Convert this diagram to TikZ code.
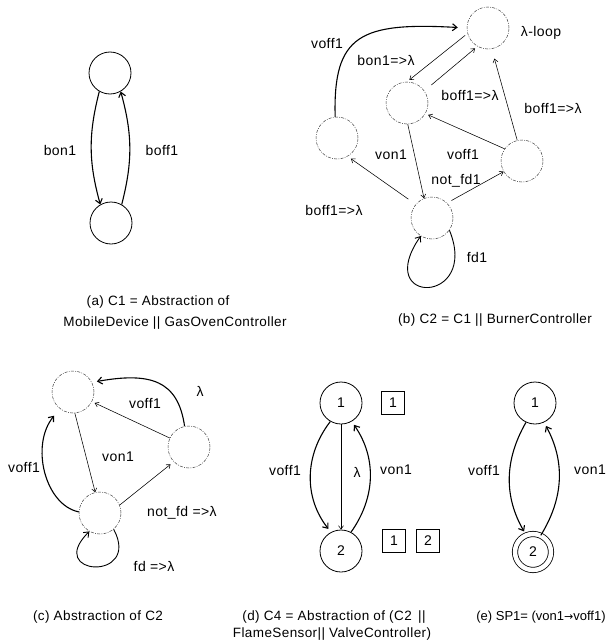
\documentclass[tikz,border=0pt]{standalone}
\usepackage{fontspec}
\setmainfont{Liberation Sans}[LetterSpace=3]
\newfontfamily\tightfont{Liberation Sans}
\newfontfamily\arrowfont{DejaVu Sans}
\usetikzlibrary{arrows.meta}
\begin{document}
\begin{tikzpicture}[x=1pt,y=-1pt,
 every node/.style={font=\fontsize{14}{16}\selectfont},
 st/.style={circle, draw, line width=0.8pt, minimum size=42pt, inner sep=0pt},
 dst/.style={circle, draw=black!75, line width=0.5pt, dash pattern=on 3pt off 1.3pt on 0.8pt off 1.3pt, minimum size=42pt, inner sep=0pt},
 thinarr/.style={draw, line width=0.55pt, -{Straight Barb[length=3.5pt,width=5pt]}},
 thickarr/.style={draw, line width=1.1pt, -{Straight Barb[length=4.5pt,width=7pt]}},
 lbl/.style={inner sep=1pt},
 captext/.style={inner sep=1pt, font=\fontsize{13.5}{16}\selectfont},
 boxnode/.style={draw, line width=0.8pt, minimum width=23pt, minimum height=23pt, inner sep=0pt}
]
\useasboundingbox[fill=white] (0,0) rectangle (608,642);

% ---------- (a)
\node[st] (a1) at (110,73) {};
\node[st] (a2) at (111,223) {};
\draw[thickarr] (a1.240) to[bend right=15] (a2.120);
\draw[thickarr] (a2.60) to[bend right=15] (a1.300);
\node[lbl] (la1) at (60,150) {bon1};
\node[lbl] (la2) at (162,150) {boff1};
\node[captext] (capa1) at (158,302) {(a) C1 = Abstraction of};
\node[captext] (capa2) at (175,323) {MobileDevice || GasOvenController};

% ---------- (b)
\node[dst] (bT) at (488,28) {};
\node[dst] (bM) at (407,103) {};
\node[dst] (bL) at (337,138) {};
\node[dst] (bR) at (522,161) {};
\node[dst] (bB) at (432,218) {};
\draw[thickarr, shorten >=9pt] (bL.95) .. controls (333,35) and (360,22) .. (bT.180);
\draw[thinarr, shorten <=3pt, shorten >=3pt] (bT.195) -- (bM.90);
\draw[thinarr, shorten <=9pt, shorten >=3pt] (bM.35) -- (bT.240);
\draw[thinarr, shorten >=10pt] (bR.103) -- (bT.280);
\draw[thinarr, shorten >=3pt] (bR.145) -- (bM.330);
\draw[thinarr] (bM.272) -- (bB.112);
\draw[thinarr, shorten <=5pt] (bB.45) -- (bR.210);
\draw[thinarr, shorten <=9pt, shorten >=4pt] (bB.140) -- (bL.300);
\draw[thickarr, line width=0.9pt] (bB.-35) .. controls (480,305) and (372,306) .. (bB.238);
\node[lbl] (lb1) at (327,44) {voff1};
\node[lbl] (lb2) at (386,60) {bon1=>λ};
\node[lbl] (lb3) at (541,33) {λ-loop};
\node[lbl] (lb4) at (470,95) {boff1=>λ};
\node[lbl] (lb5) at (553,108) {boff1=>λ};
\node[lbl] (lb6) at (391,155) {von1};
\node[lbl] (lb7) at (463,155) {voff1};
\node[lbl] (lb8) at (456,181) {not\_fd1};
\node[lbl] (lb9) at (334,210) {boff1=>λ};
\node[lbl] (lb10) at (477,257) {fd1};
\node[captext] (capb) at (495,320) {(b) C2 = C1 || BurnerController};

% ---------- (c)
\node[dst] (cTL) at (73,392) {};
\node[dst] (cR) at (189,447) {};
\node[dst] (cB) at (100,513) {};
\draw[thickarr, shorten >=5pt] (cR.102) .. controls (178,380) and (150,372) .. (cTL.27);
\draw[thinarr, shorten >=3pt] (cR.155) -- (cTL.333);
\draw[thinarr] (cTL.275) -- (cB.103);
\draw[thinarr, shorten >=4pt] (cB.22) -- (cR.224);
\draw[thickarr, shorten >=9pt] (cB.177) .. controls (45,505) and (30,445) .. (cTL.232);
\draw[thickarr, line width=0.9pt] (cB.-50) .. controls (142,582) and (44,576) .. (cB.240);
\node[lbl] (lc1) at (200,391) {λ};
\node[lbl] (lc2) at (145,403) {voff1};
\node[lbl] (lc3) at (118,457) {von1};
\node[lbl] (lc4) at (24,467) {voff1};
\node[lbl] (lc5) at (182,513) {not\_fd =>λ};
\node[lbl] (lc6) at (154,566) {fd =>λ};
\node[captext] (capc) at (98,617) {(c) Abstraction of C2};

% ---------- (d)
\node[st] (d1) at (341,403) {1};
\node[st] (d2) at (341,551) {2};
\draw[thickarr, shorten >=4pt] (d1.240) to[bend right=38] (d2.118);
\draw[thinarr] (d1.south) -- (d2.north);
\draw[thickarr, shorten >=4pt] (d2.62) to[bend right=35] (d1.300);
\node[boxnode] (db1) at (393,403) {1};
\node[boxnode] (db2) at (394,541) {1};
\node[boxnode] (db3) at (428,541) {2};
\node[lbl] (ld1) at (285,470) {voff1};
\node[lbl] (ld2) at (357,472) {λ};
\node[lbl] (ld3) at (396,470) {von1};
\node[captext] (capd1) at (334,617) {(d) C4 = Abstraction of (C2 \,||};
\node[captext] (capd2) at (332,634) {FlameSensor|| ValveController)};

% ---------- (e)
\node[st] (e1) at (535,403) {1};
\node[circle, draw, line width=0.8pt, double, double distance=4.5pt, minimum size=36pt, inner sep=0pt] (e2) at (533,552) {2};
\draw[thickarr, shorten >=4pt] (e1.245) to[bend right=30] (e2.112);
\draw[thickarr, shorten >=4pt] (e2.65) to[bend right=30] (e1.295);
\node[lbl] (le1) at (484,470) {voff1};
\node[lbl] (le2) at (590,470) {von1};
\node[captext, font=\tightfont\fontsize{13}{15}\selectfont] (cape) at (541,617) {(e) SP1= (von1{\arrowfont\fontsize{11}{15}\selectfont →}voff1)};
\end{tikzpicture}
\end{document}
